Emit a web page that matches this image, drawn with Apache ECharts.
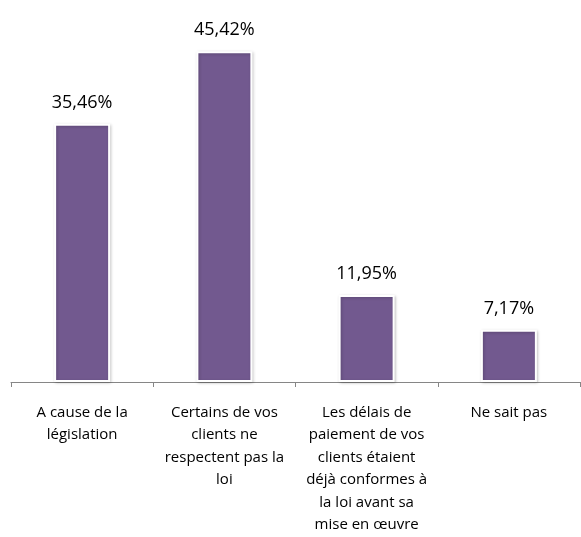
<!DOCTYPE html>
<html>
<head>
<meta charset="utf-8">
<script src="https://cdn.jsdelivr.net/npm/echarts@6/dist/echarts.min.js"></script>
<style>
  html, body { margin: 0; padding: 0; background: #fff; }
  #chart { width: 581px; height: 537px; }
</style>
</head>
<body>
<div id="chart"></div>
<script>
// categories (line breaks as in the original)
var categories = [
  'A cause de la\nlégislation',
  'Certains de vos\nclients ne\nrespectent pas la\nloi',
  'Les délais de\npaiement de vos\nclients étaient\ndéjà conformes à\nla loi avant sa\nmise en œuvre',
  'Ne sait pas'
]
var values = [35.46, 45.42, 11.95, 7.17]

var myChart = echarts.init(document.getElementById('chart'))

var option = {
  animation: false,
  grid: {
    left: 11,
    right: 1,
    top: 18,
    bottom: 155
  },
  xAxis: {
    type: 'category',
    data: categories,
    axisLine: { lineStyle: { color: '#868686', width: 1 } },
    axisTick: { show: true, length: 5, lineStyle: { color: '#868686' } },
    axisLabel: {
      interval: 0,
      margin: 19,
      color: '#000',
      fontFamily: 'Open Sans',
      fontSize: 15,
      lineHeight: 22.5
    }
  },
  yAxis: {
    type: 'value',
    min: 0,
    max: 50,
    show: false,
    splitLine: { show: false }
  },
  series: [{
    type: 'bar',
    data: values,
    barWidth: 56,
    itemStyle: {
      color: '#72598F',
      borderColor: '#fff',
      borderWidth: 2,
      shadowBlur: 3,
      shadowColor: 'rgba(0,0,0,0.22)',
      shadowOffsetX: 1,
      shadowOffsetY: 1
    },
    label: {
      show: true,
      position: 'top',
      distance: 12,
      color: '#000',
      fontFamily: 'Open Sans',
      fontSize: 18,
      formatter: function (p) {
        return p.value.toFixed(2).replace('.', ',') + '%'
      }
    }
  }]
}

myChart.setOption(option, true)
</script>
</body>
</html>
